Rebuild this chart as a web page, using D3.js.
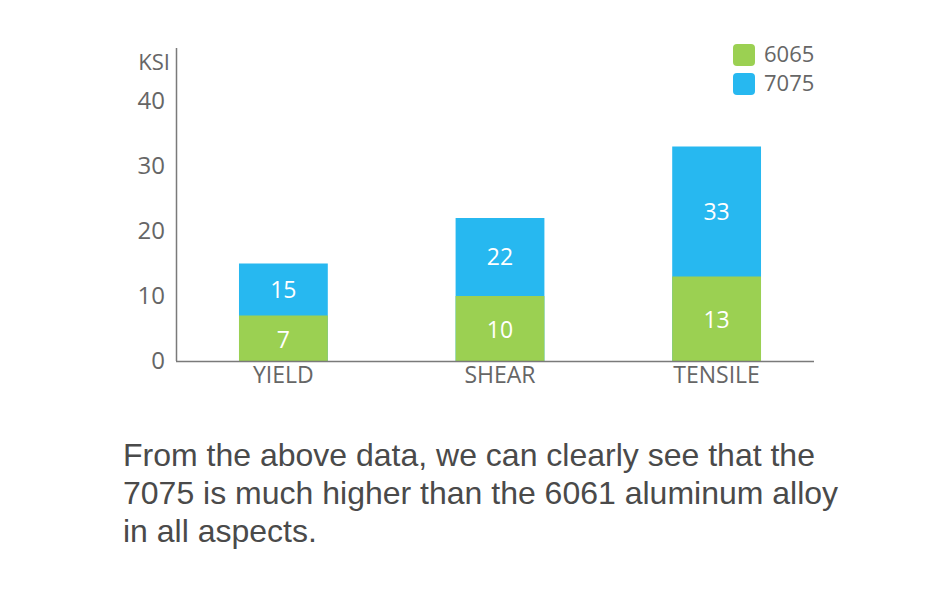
<!DOCTYPE html>
<html>
<head>
<meta charset="utf-8">
<script src="https://cdn.jsdelivr.net/npm/d3@7"></script>
<style>
  body { margin: 0; background: #fff; }
  svg { display: block; }
</style>
</head>
<body>
<svg width="944" height="608"></svg>
<script>
const categories = ['YIELD', 'SHEAR', 'TENSILE']
const series6065 = [7, 10, 13]
const series7075 = [15, 22, 33]
const yTicks = [0, 10, 20, 30, 40]
const seriesNames = ['6065', '7075']
const colors = ['#9bd052', '#27b8f0']
const noteLines = [
  'From the above data, we can clearly see that the',
  '7075 is much higher than the 6061 aluminum alloy',
  'in all aspects.'
]

const svg = d3.select('svg')
const axisColor = '#7a7a7a'
const textColor = '#666'
const labelFont = '"Open Sans", "Noto Sans", sans-serif'

const x = d3.scaleBand().domain(categories).range([174, 826]).paddingInner(0.59).paddingOuter(0.3)
const y = d3.scaleLinear().domain([0, 40]).range([361, 101])

// bars: 7075 drawn from zero, 6065 over it
const rows = categories.map((c, i) => ({ cat: c, a: series6065[i], b: series7075[i] }))

svg.selectAll('rect.b').data(rows).enter().append('rect')
  .attr('class', 'b')
  .attr('x', d => x(d.cat))
  .attr('width', x.bandwidth())
  .attr('y', d => y(d.b))
  .attr('height', d => y(0) - y(d.b))
  .attr('fill', colors[1])

svg.selectAll('rect.a').data(rows).enter().append('rect')
  .attr('class', 'a')
  .attr('x', d => x(d.cat))
  .attr('width', x.bandwidth())
  .attr('y', d => y(d.a))
  .attr('height', d => y(0) - y(d.a))
  .attr('fill', colors[0])

// value labels
svg.selectAll('text.va').data(rows).enter().append('text')
  .attr('x', d => x(d.cat) + x.bandwidth() / 2)
  .attr('y', d => (y(0) + y(d.a)) / 2 + 1)
  .attr('dy', '0.36em')
  .attr('text-anchor', 'middle')
  .attr('font-family', labelFont)
  .attr('font-size', 23)
  .attr('fill', '#fff')
  .text(d => d.a)

svg.selectAll('text.vb').data(rows).enter().append('text')
  .attr('x', d => x(d.cat) + x.bandwidth() / 2)
  .attr('y', d => (y(d.a) + y(d.b)) / 2)
  .attr('dy', '0.36em')
  .attr('text-anchor', 'middle')
  .attr('font-family', labelFont)
  .attr('font-size', 23)
  .attr('fill', '#fff')
  .text(d => d.b)

// axes
let xAxis = svg.append('g')
  .attr('transform', 'translate(0,' + y(0) + ')')
  .call(d3.axisBottom(x).tickSize(0).tickPadding(6))
xAxis.select('.domain').attr('d', 'M176,0.5H814').attr('stroke', axisColor).attr('stroke-width', 1.5)
xAxis.selectAll('text')
  .attr('font-family', labelFont)
  .attr('font-size', 23)
  .attr('fill', textColor)

let yAxis = svg.append('g')
  .attr('transform', 'translate(176,0)')
  .call(d3.axisLeft(y).tickValues(yTicks).tickSize(0).tickPadding(11))
yAxis.select('.domain').attr('d', 'M0.5,48V361').attr('stroke', axisColor).attr('stroke-width', 1.5)
yAxis.selectAll('text')
  .attr('font-family', labelFont)
  .attr('font-size', 24)
  .attr('fill', textColor)

svg.append('text')
  .attr('x', 170)
  .attr('y', 62)
  .attr('dy', '0.36em')
  .attr('text-anchor', 'end')
  .attr('font-family', labelFont)
  .attr('font-size', 22)
  .attr('fill', textColor)
  .text('KSI')

// legend
let legend = svg.selectAll('g.legend').data(seriesNames).enter().append('g')
  .attr('transform', (d, i) => 'translate(733,' + (44 + i * 29) + ')')
legend.append('rect')
  .attr('width', 22)
  .attr('height', 22)
  .attr('rx', 4)
  .attr('fill', (d, i) => colors[i])
legend.append('text')
  .attr('x', 31)
  .attr('y', 11)
  .attr('dy', '0.34em')
  .attr('font-family', labelFont)
  .attr('font-size', 22)
  .attr('fill', textColor)
  .text(d => d)

// note below chart
svg.selectAll('text.note').data(noteLines).enter().append('text')
  .attr('x', 123)
  .attr('y', (d, i) => 466 + i * 38)
  .attr('font-family', '"Liberation Sans", Arial, sans-serif')
  .attr('font-size', 32)
  .attr('fill', '#4a4a4a')
  .text(d => d)
</script>
</body>
</html>
